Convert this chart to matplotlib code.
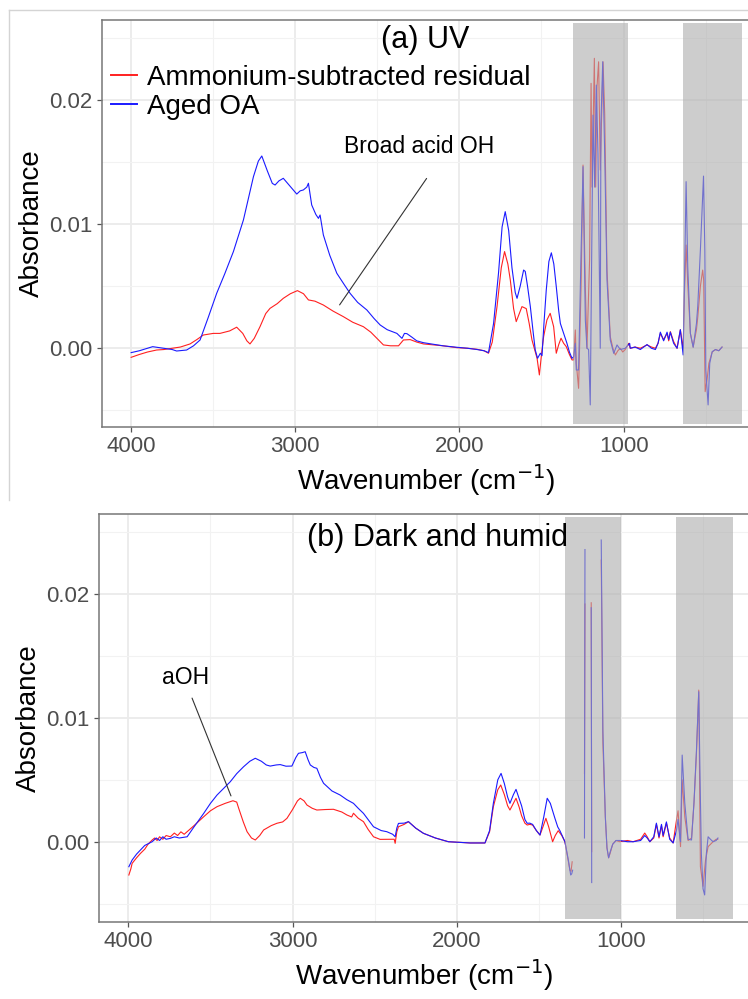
import numpy as np
import matplotlib
matplotlib.use("Agg")
import matplotlib.pyplot as plt
from matplotlib.lines import Line2D

plt.rcParams['font.family'] = ['Liberation Sans', 'DejaVu Sans']

nan = np.nan

# ---- panel (a) UV : ammonium-subtracted residual (red) ----
uv_res_wn = [4000, 3950, 3900, 3845, 3800, 3750, 3700, 3641, 3600, 3560, 3500, 3459, 3400, 3357,
             3320, 3295, 3276, 3250, 3215, 3180, 3154, 3110, 3073, 3030, 2987, 2950, 2920, 2880,
             2829, 2770, 2707, 2650, 2585, 2540, 2503, 2463, 2420, 2371, 2341, 2300, 2260, 2219,
             2100, 2015, 1950, 1893, 1850, 1823, 1800, 1771, 1745, 1725, 1705, 1690, 1670, 1654,
             1635, 1619, 1593, 1575, 1558, 1540, 1527, 1513, 1500, 1487, 1467, 1447, 1426, 1410,
             1395, 1381, 1365, 1349, 1330, 1314, 1304, 1294, 1288, 1274, 1259, 1247, 1233, 1223,
             1207, 1198, 1192, 1178, 1170, 1162, 1152, 1142, 1125, 1115, 1101, 1081, 1065, 1050,
             1035, 1020, 1005, 990, 969, 959, 930, 898, 857, 830, 806, 790, 776, 756, 735, 725,
             715, 695, 674, 654, 640, 637, 629, 619, 609, 593, 576, 556, 548, 532, 518, 512, 503,
             491, 480, 460, 440, 420, 400]
uv_res_abs = [-0.00073, -0.0005, -0.0003, -0.00014, -0.0001, 0.0, 0.0001, 0.00035, 0.0007, 0.00107,
              0.0012, 0.0012, 0.0014, 0.0017, 0.0012, 0.0006, 0.00035, 0.0008, 0.00174, 0.0028,
              0.00322, 0.0036, 0.00403, 0.0044, 0.00465, 0.0044, 0.0039, 0.0038, 0.00349, 0.0030,
              0.00255, 0.0021, 0.00174, 0.0013, 0.00081, 0.00027, 0.0002, 0.0002, 0.00067, 0.0007,
              0.0005, 0.00035, 0.0002, 0.00005, 0.0, -0.00008, -0.0002, -0.0004, 0.0005, 0.00336,
              0.0065, 0.0078, 0.0068, 0.0055, 0.0032, 0.00215, 0.0028, 0.00336, 0.0032, 0.0020,
              0.00067, -0.0002, -0.00081, -0.00215, -0.0005, 0.00094, 0.00228, 0.00282, 0.00174,
              -0.0004, 0.0003, 0.00081, 0.0004, 0.00013, -0.0005, -0.00094, -0.00094, 0.00148,
              -0.00121, -0.00323, 0.00497, 0.01478, 0.00497, 0.0, 0.00712, 0.02137, 0.0130, 0.02339,
              0.0130, 0.0211, 0.02311, 0.01438, 0.02311, 0.01895, 0.00631, 0.00094, 0.0, -0.00054,
              -0.0002, 0.0, -0.0003, -0.0001, 0.0004, 0.0, 0.0001, 0.0, 0.00027, 0.0001, 0.0,
              0.0004, 0.0012, 0.0007, 0.0012, 0.0006, 0.00134, 0.00054, 0.0, 0.0015, 0.0002, 0.0,
              0.0045, 0.00833, 0.0052, 0.0012, 0.0001, 0.0015, 0.0025, 0.0050, 0.00631, 0.0055,
              -0.0035, -0.0025, -0.0012, -0.0003, -0.0001, -0.0002, 0.0001]

# ---- panel (a) UV : aged OA (blue) ----
uv_oa_wn = [4000, 3950, 3900, 3869, 3800, 3750, 3723, 3662, 3620, 3580, 3530, 3479, 3430, 3377,
            3316, 3255, 3225, 3204, 3170, 3140, 3123, 3100, 3073, 3040, 2991, 2970, 2951, 2930,
            2920, 2900, 2875, 2859, 2849, 2829, 2790, 2747, 2700, 2666, 2620, 2564, 2520, 2483,
            2440, 2381, 2350, 2335, 2320, 2290, 2260, 2219, 2100, 2015, 1950, 1893, 1850, 1823,
            1792, 1762, 1740, 1721, 1700, 1680, 1660, 1649, 1630, 1609, 1599, 1585, 1568, 1550,
            1538, 1524, 1507, 1497, 1485, 1471, 1455, 1440, 1425, 1410, 1395, 1385, 1365, 1345,
            1330, 1314, 1304, 1294, 1288, 1274, 1259, 1247, 1233, 1223, 1213, 1203, 1192, 1186,
            1176, 1166, 1156, 1142, 1138, 1127, 1115, 1101, 1081, 1060, 1040, 1020, 990, 963,
            959, 930, 898, 857, 830, 806, 790, 776, 756, 735, 725, 715, 695, 674, 654, 642, 637,
            629, 619, 609, 593, 576, 556, 548, 532, 513, 505, 499, 485, 475, 460, 440, 420, 400]
uv_oa_abs = [-0.00035, -0.0002, 0.0, 0.00013, 0.0, -0.0001, -0.00022, -0.00014, 0.0002, 0.00067,
             0.0025, 0.00443, 0.006, 0.0078, 0.01035, 0.01384, 0.0151, 0.01551, 0.0143, 0.0133,
             0.01317, 0.0135, 0.01371, 0.0132, 0.01244, 0.0127, 0.01277, 0.0130, 0.01331, 0.01156,
             0.0108, 0.01048, 0.01075, 0.00914, 0.0075, 0.00605, 0.0051, 0.00443, 0.0037, 0.00309,
             0.0024, 0.00188, 0.0015, 0.0012, 0.0008, 0.0012, 0.00118, 0.0009, 0.0006, 0.00045,
             0.0002, 0.00008, 0.0, -0.0001, -0.0002, -0.00035, 0.002, 0.00605, 0.0098, 0.01102,
             0.0095, 0.0065, 0.0045, 0.00403, 0.0050, 0.00631, 0.0062, 0.0050, 0.00336, 0.0012,
             -0.00014, -0.00081, -0.0004, -0.0006, 0.0020, 0.0047, 0.0070, 0.0077, 0.0068, 0.00497,
             0.003, 0.002, 0.0012, 0.0004, -0.0003, -0.00081, -0.00068, 0.0004, -0.00175, -0.00175,
             0.00766, 0.01465, 0.00228, 0.0, -0.0001, -0.00457, 0.01035, 0.01881, 0.0130, 0.02123,
             0.01572, 0.0, 0.01814, 0.02311, 0.01572, 0.0055, 0.00067, -0.00041, 0.00027, -0.0001,
             0.0, 0.0004, 0.0, 0.0001, -0.0001, 0.0003, 0.0, -0.0001, 0.0004, 0.0013, 0.0006,
             0.0013, 0.0007, 0.0013, 0.0004, 0.0, 0.0015, 0.0, -0.00054, 0.00524, 0.01344, 0.00658,
             0.0012, 0.00008, 0.002, 0.0034, 0.00793, 0.01389, 0.00793, -0.00175, -0.00457,
             -0.00121, -0.00027, -0.0001, -0.0002, 0.0001]

# ---- panel (b) dark and humid : ammonium-subtracted residual (red) ----
dh_res_wn = [3997, 3985, 3977, 3950, 3926, 3900, 3880, 3855, 3840, 3825, 3810, 3790, 3770, 3744,
             3720, 3700, 3680, 3660, 3642, 3600, 3541, 3500, 3460, 3410, 3363, 3340, 3328, 3300,
             3277, 3250, 3227, 3200, 3176, 3130, 3095, 3060, 3034, 3000, 2970, 2953, 2930, 2912,
             2880, 2852, 2800, 2751, 2700, 2669, 2640, 2629, 2600, 2568, 2540, 2507, 2467, 2400,
             2381, 2375, 2365, 2355, 2320, 2294, 2250, 2203, 2130, 2051, 1980, 1919, 1828, 1800,
             1777, 1750, 1732, 1710, 1690, 1676, 1655, 1639, 1620, 1605, 1585, 1571, 1555, 1538,
             1515, 1493, 1475, 1457, 1440, 1416, 1400, 1382, 1360, 1341, 1325, 1311, 1304, 1297,
             1260, 1222, 1219, 1200, 1181, 1178, 1150, 1120, 1110, 1095, 1085, 1075, 1065, 1050,
             1030, 1007, 960, 926, 880, 855, 840, 824, 800, 784, 768, 753, 743, 723, 703, 682, 662,
             652, 637, 627, 611, 591, 570, 555, 540, 526, 520, 516, 500, 485, 469, 439, 420, 410]
dh_res_abs = [-0.00269, -0.0022, -0.00175, -0.0013, -0.00094, -0.0006, -0.0002, 0.00014, 0.0003,
              0.0001, 0.0004, 0.0002, 0.0005, 0.0004, 0.0007, 0.0005, 0.0008, 0.0006, 0.00081,
              0.0013, 0.00202, 0.0025, 0.00283, 0.0031, 0.00331, 0.0032, 0.0027, 0.0016, 0.00081,
              0.0003, 0.00014, 0.0005, 0.00095, 0.0013, 0.00149, 0.0016, 0.00189, 0.0026, 0.0033,
              0.00351, 0.0033, 0.00296, 0.0027, 0.00256, 0.0026, 0.00262, 0.0024, 0.00216, 0.0020,
              0.0023, 0.0019, 0.00162, 0.001, 0.0004, 0.00019, 0.0002, 0.0002, -0.00013, 0.0008,
              0.00121, 0.0014, 0.00162, 0.0011, 0.00068, 0.0003, 0.0, -0.00005, -0.0001, -0.0001,
              0.0008, 0.00283, 0.0042, 0.00458, 0.0038, 0.0029, 0.00256, 0.0031, 0.00351, 0.0028,
              0.0021, 0.0015, 0.00135, 0.0014, 0.00135, 0.0009, 0.00054, 0.0012, 0.00189, 0.0012,
              0.0, 0.0005, 0.00089, 0.0005, 0.0, -0.0012, -0.00229, -0.0024, -0.00162,
              nan, 0.0055, 0.0192, nan, 0.0193, -0.0008, nan, 0.02275, 0.008, 0.002, -0.0005,
              -0.0013, -0.0009, -0.0002, 0.0001, 0.0, 0.0001, 0.0, 0.0002, 0.0007, 0.0004, 0.0,
              0.0003, 0.0014, 0.0003, 0.0013, 0.0004, 0.0015, 0.0003, -0.0001, 0.0017, 0.0025,
              -0.0004, 0.0050, 0.002, 0.0001, 0.0003, 0.0031, 0.0071, 0.01225, 0.004, -0.002,
              -0.0036, -0.0015, -0.0004, 0.0, 0.0002, 0.0002]

# ---- panel (b) dark and humid : aged OA (blue) ----
dh_oa_wn = [3997, 3977, 3950, 3926, 3900, 3855, 3830, 3810, 3790, 3770, 3744, 3720, 3690, 3642,
            3600, 3541, 3500, 3460, 3420, 3379, 3340, 3298, 3260, 3227, 3190, 3160, 3136, 3100,
            3075, 3040, 3004, 2980, 2964, 2940, 2923, 2905, 2892, 2870, 2852, 2830, 2811, 2760,
            2710, 2670, 2629, 2600, 2568, 2540, 2507, 2460, 2426, 2390, 2375, 2365, 2355, 2320,
            2294, 2250, 2203, 2130, 2051, 1980, 1919, 1828, 1800, 1777, 1750, 1730, 1710, 1690,
            1676, 1655, 1639, 1620, 1605, 1585, 1571, 1555, 1538, 1515, 1493, 1470, 1449, 1430,
            1402, 1385, 1372, 1341, 1320, 1306, 1300, 1294, 1260, 1222, 1219, 1200, 1181, 1178,
            1150, 1120, 1110, 1095, 1085, 1075, 1065, 1050, 1030, 1007, 960, 926, 880, 855, 840,
            824, 800, 784, 768, 753, 743, 723, 703, 682, 662, 652, 640, 637, 627, 611, 591, 570,
            555, 540, 526, 518, 510, 500, 490, 480, 469, 455, 439, 420, 409]
dh_oa_abs = [-0.00202, -0.00148, -0.001, -0.00067, -0.0003, 0.0, 0.0003, 0.0001, 0.0004, 0.0002,
             0.00027, 0.0004, 0.0003, 0.0004, 0.0012, 0.00229, 0.0031, 0.00377, 0.0043, 0.00485,
             0.0055, 0.00606, 0.0065, 0.00674, 0.0065, 0.0062, 0.00611, 0.0062, 0.00623, 0.0061,
             0.00611, 0.0068, 0.00714, 0.0072, 0.00727, 0.0066, 0.0062, 0.0060, 0.00593, 0.0052,
             0.00472, 0.0041, 0.00377, 0.0034, 0.0031, 0.0027, 0.00229, 0.0018, 0.00121, 0.0009,
             0.00081, 0.0006, 0.0004, 0.0011, 0.00148, 0.0015, 0.00162, 0.0011, 0.00068, 0.0003,
             0.0, -0.00005, -0.0001, -0.0001, 0.0009, 0.0031, 0.0050, 0.00552, 0.0047, 0.0036,
             0.0031, 0.0038, 0.00423, 0.0035, 0.0029, 0.0018, 0.00149, 0.0015, 0.0014, 0.0009,
             0.00054, 0.002, 0.00351, 0.0031, 0.00189, 0.0012, 0.0009, 0.0, -0.0015, -0.00269,
             -0.0026, -0.0023, nan, 0.0003, 0.0236, nan, 0.0189, -0.0033, nan, 0.02437, 0.009,
             0.002, -0.0005, -0.0013, -0.0008, -0.0002, 0.0001, 0.0001, 0.0, 0.0, 0.0001, 0.0005,
             0.0003, 0.0, 0.0004, 0.0015, 0.0004, 0.0014, 0.0005, 0.0016, 0.0002, -0.0001, 0.0009,
             0.0018, 0.0002, 0.0, 0.0070, 0.0031, 0.0002, 0.00014, 0.0032, 0.0074, 0.01212, 0.005,
             -0.001, -0.0038, -0.0043, -0.001, 0.0004, 0.0002, 0.0, 0.0001, 0.0003]

series_labels = ['Ammonium-subtracted residual', 'Aged OA']
panel_titles = ['(a) UV', '(b) Dark and humid']
title_pos = [(2210, 0.0249), (2120, 0.0245)]
# shaded (excluded) wavenumber windows per panel
shade_a = [(1310, 970), (635, 280)]
shade_b = [(1340, 1000), (665, 315)]
# annotation: label, text position, line start, line end
annot_a = ('Broad acid OH', (2245, 0.0163), (2200, 0.0137), (2730, 0.0035))
annot_b = ('aOH', (3650, 0.0133), (3612, 0.0116), (3375, 0.0037))

fig = plt.figure(figsize=(7.48, 9.99), dpi=100)

# screenshot frame around the top panel
fig.add_artist(Line2D([8.5 / 748, 1.0], [1 - 9.5 / 999, 1 - 9.5 / 999], color='#d4d4d4', lw=1))
fig.add_artist(Line2D([8.5 / 748, 8.5 / 748], [1 - 9.5 / 999, 1 - 500 / 999], color='#d4d4d4', lw=1))

ax_a = fig.add_axes([101.6 / 748, 1 - 427 / 999, 650 / 748, 407 / 999])
ax_b = fig.add_axes([98.8 / 748, 1 - 921.7 / 999, 650.2 / 748, 407.7 / 999])

panels = [
    (ax_a, uv_res_wn, uv_res_abs, uv_oa_wn, uv_oa_abs, shade_a, annot_a, (-0.00635, 0.02648)),
    (ax_b, dh_res_wn, dh_res_abs, dh_oa_wn, dh_oa_abs, shade_b, annot_b, (-0.00646, 0.02647)),
]

for i, (ax, rw, ra, bw, ba, shades, annot, ylim) in enumerate(panels):
    ax.plot(rw, ra, color='#ff2020', lw=0.8, label=series_labels[0], zorder=2)
    ax.plot(bw, ba, color='#1a1aff', lw=0.8, label=series_labels[1], zorder=2.1)
    for lo, hi in shades:
        ax.axvspan(lo, hi, ymin=0.007, ymax=0.993, color='0.68', alpha=0.6, lw=0, zorder=3)

    ax.set_xlim(4180, 220)
    ax.set_ylim(*ylim)
    ax.set_xticks([4000, 3000, 2000, 1000])
    ax.set_xticks([3500, 2500, 1500, 500], minor=True)
    ax.set_yticks([0.0, 0.01, 0.02])
    ax.set_yticklabels(['0.00', '0.01', '0.02'])
    ax.set_yticks([-0.005, 0.005, 0.015, 0.025], minor=True)
    ax.grid(which='major', color='#ebebeb', lw=1.3, zorder=0)
    ax.grid(which='minor', color='#f2f2f2', lw=0.8, zorder=0)
    ax.set_axisbelow(True)
    ax.tick_params(which='major', length=3.5, width=0.9, color='#555555',
                   labelsize=16, labelcolor='#4d4d4d', pad=3)
    ax.tick_params(which='minor', length=0)
    for s in ax.spines.values():
        s.set_color('#777777')
        s.set_linewidth(1.1)

    ax.set_xlabel('Wavenumber (cm$^{-1}$)', fontsize=20, labelpad=4)
    ax.set_ylabel('Absorbance', fontsize=20, labelpad=3)

    ax.text(title_pos[i][0], title_pos[i][1], panel_titles[i], fontsize=22,
            ha='center', va='center', zorder=5)

    label, tpos, lstart, lend = annot
    ax.text(tpos[0], tpos[1], label, fontsize=16.5, ha='center', va='center', zorder=5)
    ax.annotate('', xy=lend, xytext=lstart,
                arrowprops=dict(arrowstyle='-', color='#333333', lw=0.8, shrinkA=0, shrinkB=0))

leg = ax_a.legend(loc='upper left', bbox_to_anchor=(0.0145, 0.89), frameon=False,
                  fontsize=20, handlelength=0.95, handletextpad=0.36, labelspacing=0.12,
                  borderpad=0, borderaxespad=0)
for h in leg.get_lines():
    h.set_linewidth(1.4)

fig.savefig('out.png', dpi=100)
